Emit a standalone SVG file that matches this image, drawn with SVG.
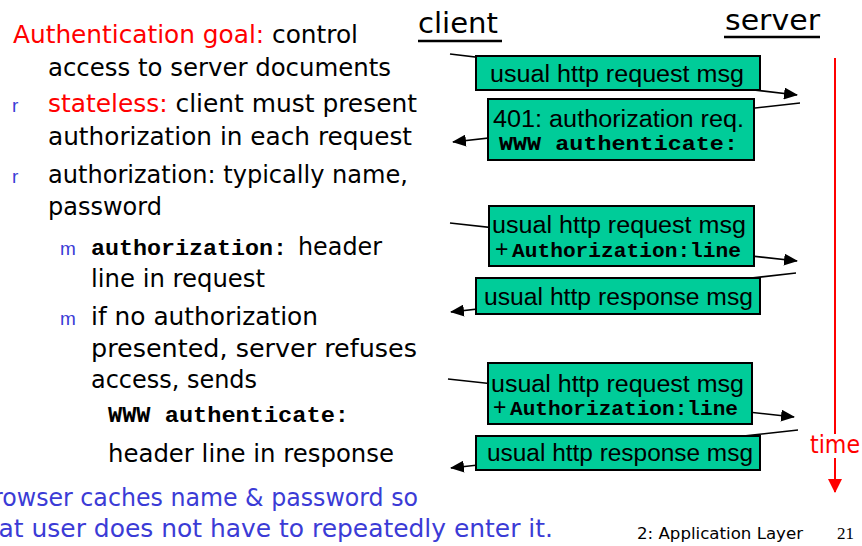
<svg xmlns="http://www.w3.org/2000/svg" width="862" height="546" viewBox="0 0 862 546">
  <defs>
    <style>
      .body { font-family: "DejaVu Sans", "Liberation Sans", sans-serif; font-size: 24px; fill: #000; }
      .red { fill: #ff0000; }
      .blue { fill: #3b3bd6; }
      .bul { font-family: "Liberation Sans", Arial, sans-serif; font-size: 19px; fill: #3b3bd6; }
      .mono { font-family: "Liberation Mono", "Courier New", monospace; font-weight: bold; fill: #000; }
      .box rect { fill: #00cc99; stroke: #000; stroke-width: 2; }
      .box text { font-family: "Liberation Sans", Arial, sans-serif; font-size: 23px; fill: #000; }
      .box text.mono { font-family: "Liberation Mono", "Courier New", monospace; font-size: 21px; font-weight: bold; }
      .head { font-family: "DejaVu Sans", "Liberation Sans", sans-serif; font-size: 28px; fill: #000; }
      .msg { stroke: #000; stroke-width: 1.6; fill: none; marker-end: url(#arrow); }
    </style>
    <marker id="arrow" markerUnits="userSpaceOnUse" markerWidth="14" markerHeight="12" refX="13" refY="6" orient="auto">
      <path d="M0,0 L14,6 L0,12 Z" fill="#000"/>
    </marker>
    <marker id="tarrow" markerUnits="userSpaceOnUse" markerWidth="14" markerHeight="14" refX="13" refY="7" orient="auto">
      <path d="M0,0 L14,7 L0,14 Z" fill="#ff0000"/>
    </marker>
  </defs>

  <rect width="862" height="546" fill="#fff"/>

  <!-- bullet text -->
  <g id="notes">
    <text class="body" x="13" y="43" textLength="345" lengthAdjust="spacingAndGlyphs"><tspan class="red">Authentication goal:</tspan> control</text>
    <text class="body" x="48" y="76" textLength="343" lengthAdjust="spacingAndGlyphs">access to server documents</text>

    <text class="bul" x="12" y="112">r</text>
    <text class="body" x="48" y="112" textLength="369" lengthAdjust="spacingAndGlyphs"><tspan class="red">stateless:</tspan> client must present</text>
    <text class="body" x="48" y="145" textLength="364" lengthAdjust="spacingAndGlyphs">authorization in each request</text>

    <text class="bul" x="12" y="183">r</text>
    <text class="body" x="48" y="183" textLength="360" lengthAdjust="spacingAndGlyphs">authorization: typically name,</text>
    <text class="body" x="48" y="215" textLength="114" lengthAdjust="spacingAndGlyphs">password</text>

    <text class="bul" x="60" y="255">m</text>
    <text class="mono" x="91" y="255" font-size="22" textLength="196" lengthAdjust="spacingAndGlyphs">authorization:</text>
    <text class="body" x="298" y="255" textLength="84" lengthAdjust="spacingAndGlyphs">header</text>
    <text class="body" x="91" y="287" textLength="174" lengthAdjust="spacingAndGlyphs">line in request</text>

    <text class="bul" x="60" y="325">m</text>
    <text class="body" x="91" y="325" textLength="227" lengthAdjust="spacingAndGlyphs">if no authorization</text>
    <text class="body" x="91" y="357" textLength="326" lengthAdjust="spacingAndGlyphs">presented, server refuses</text>
    <text class="body" x="91" y="388" textLength="166" lengthAdjust="spacingAndGlyphs">access, sends</text>
    <text class="mono" x="108" y="422" font-size="22" textLength="241" lengthAdjust="spacingAndGlyphs">WWW authenticate:</text>
    <text class="body" x="108" y="462" textLength="286" lengthAdjust="spacingAndGlyphs">header line in response</text>

    <text class="body blue" x="-22" y="506" textLength="440" lengthAdjust="spacingAndGlyphs">browser caches name &amp; password so</text>
    <text class="body blue" x="-27" y="537" textLength="580" lengthAdjust="spacingAndGlyphs">that user does not have to repeatedly enter it.</text>
  </g>

  <!-- endpoints -->
  <g id="client">
    <text class="head" x="418" y="33" textLength="80" lengthAdjust="spacingAndGlyphs">client</text>
    <line x1="418" y1="41" x2="502" y2="41" stroke="#000" stroke-width="2.5"/>
  </g>
  <g id="server">
    <text class="head" x="725" y="30" textLength="95" lengthAdjust="spacingAndGlyphs">server</text>
    <line x1="724" y1="37" x2="820" y2="37" stroke="#000" stroke-width="2.5"/>
  </g>

  <!-- time axis -->
  <g id="time">
    <line x1="835" y1="58" x2="835" y2="434" stroke="#ff0000" stroke-width="2"/>
    <line x1="835" y1="458" x2="835" y2="492" stroke="#ff0000" stroke-width="2" marker-end="url(#tarrow)"/>
    <text x="810" y="453" font-family="DejaVu Sans, Liberation Sans, sans-serif" font-size="24" fill="#ff0000" textLength="50" lengthAdjust="spacingAndGlyphs">time</text>
  </g>

  <!-- message connectors -->
  <g id="connectors">
    <line class="msg" x1="450" y1="54" x2="797" y2="95"/>
    <line class="msg" x1="800" y1="103" x2="453" y2="142"/>
    <line class="msg" x1="450" y1="223" x2="797" y2="261"/>
    <line class="msg" x1="796" y1="273" x2="451" y2="312"/>
    <line class="msg" x1="448" y1="379" x2="794" y2="417"/>
    <line class="msg" x1="798" y1="430" x2="451" y2="468"/>
  </g>

  <!-- message boxes -->
  <g id="req1" class="box">
    <rect x="476" y="56" width="284" height="34"/>
    <text x="490" y="82" textLength="254" lengthAdjust="spacingAndGlyphs">usual http request msg</text>
  </g>
  <g id="resp401" class="box">
    <rect x="488" y="99" width="266" height="61"/>
    <text x="493" y="127" textLength="251" lengthAdjust="spacingAndGlyphs">401: authorization req.</text>
    <text class="mono" x="499" y="150" textLength="239" lengthAdjust="spacingAndGlyphs">WWW authenticate:</text>
  </g>
  <g id="req2" class="box">
    <rect x="489" y="206" width="265" height="60"/>
    <text x="492" y="233" textLength="254" lengthAdjust="spacingAndGlyphs">usual http request msg</text>
    <text x="495" y="257" font-size="17">+</text>
    <text class="mono" x="512" y="257" textLength="229" lengthAdjust="spacingAndGlyphs">Authorization:line</text>
  </g>
  <g id="resp2" class="box">
    <rect x="476" y="278" width="284" height="36"/>
    <text x="484" y="305" textLength="269" lengthAdjust="spacingAndGlyphs">usual http response msg</text>
  </g>
  <g id="req3" class="box">
    <rect x="488" y="363" width="264" height="61"/>
    <text x="491" y="392" textLength="253" lengthAdjust="spacingAndGlyphs">usual http request msg</text>
    <text x="493" y="415" font-size="17">+</text>
    <text class="mono" x="510" y="415" textLength="228" lengthAdjust="spacingAndGlyphs">Authorization:line</text>
  </g>
  <g id="resp3" class="box">
    <rect x="476" y="436" width="284" height="34"/>
    <text x="487" y="461" textLength="266" lengthAdjust="spacingAndGlyphs">usual http response msg</text>
  </g>

  <!-- footer -->
  <g id="footer">
    <text x="637" y="539" font-family="DejaVu Sans, Liberation Sans, sans-serif" font-size="16" fill="#000" textLength="166" lengthAdjust="spacingAndGlyphs">2: Application Layer</text>
    <text x="837" y="539" font-family="Liberation Serif, Times New Roman, serif" font-size="17" fill="#000">21</text>
  </g>
</svg>
